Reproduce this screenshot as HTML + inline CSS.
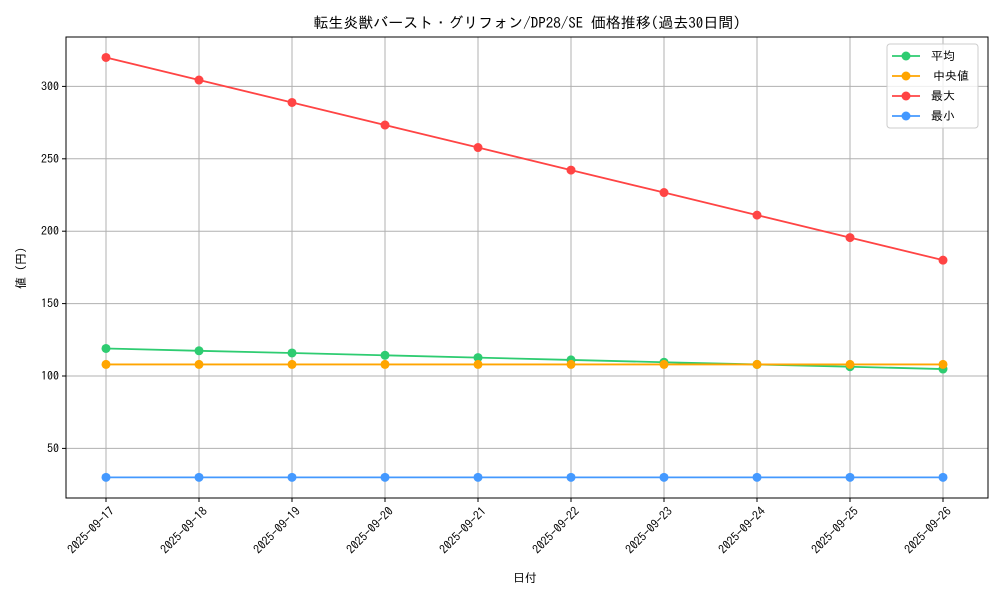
<!DOCTYPE html>
<html><head><meta charset="utf-8"><style>
body{margin:0;background:#fff;}
svg text{font-family:"IPAGothic","Liberation Sans","Noto Sans CJK JP",sans-serif;fill:#000;}
</style></head><body>
<svg id="chart" width="1000" height="600" xmlns="http://www.w3.org/2000/svg">
<rect x="0" y="0" width="1000" height="600" fill="#fff"/>
<text x="527" y="28" font-size="15" text-anchor="middle">転生炎獣バースト・グリフォン/DP28/SE 価格推移(過去30日間)</text>
<g id="grid"></g>
<g id="series"></g>
<rect x="66" y="37" width="922" height="461" fill="none" stroke="#000" stroke-width="1"/>
<g id="axes"></g>
<text x="525" y="582" font-size="12" text-anchor="middle">日付</text>
<text transform="translate(25,268) rotate(-90)" font-size="12" text-anchor="middle">値 (円)</text>
<g id="legend">
<rect x="887" y="44" width="91" height="84" rx="3" fill="#fff" fill-opacity="0.8" stroke="#ccc"/>
</g>
</svg>
<script>
const dates=["2025-09-17","2025-09-18","2025-09-19","2025-09-20","2025-09-21","2025-09-22","2025-09-23","2025-09-24","2025-09-25","2025-09-26"];
const avgVals=[119,117.4,115.9,114.3,112.7,111.1,109.5,108,106.4,104.8];
const medVals=[108,108,108,108,108,108,108,108,108,108];
const maxVals=[320,304.4,288.9,273.3,257.8,242.2,226.7,211.1,195.6,180];
const minVals=[30,30,30,30,30,30,30,30,30,30];
const yTicks=[50,100,150,200,250,300];
const seriesNames=["平均","中央値","最大","最小"];
const seriesColors=["#2ecc71","#ffa500","#ff4444","#4499ff"];
const NS="http://www.w3.org/2000/svg";
function xs(i){return 106+i*(943-106)/(dates.length-1);}
function ys(v){return 376-(v-100)*1.448;}
function mk(t,a,p){const e=document.createElementNS(NS,t);for(const k in a)e.setAttribute(k,a[k]);p.appendChild(e);return e;}
const grid=document.getElementById('grid'),axes=document.getElementById('axes'),ser=document.getElementById('series'),leg=document.getElementById('legend');
dates.forEach((d,i)=>{
 const x=xs(i);
 const g=mk('line',{x1:x,x2:x,y1:37,y2:498,stroke:'#b0b0b0','stroke-width':1},grid);
 
 
 mk('line',{x1:x,x2:x,y1:498,y2:502,stroke:'#000'},axes);
 const ax=x+9, ay=512;
 const t=mk('text',{x:ax,y:ay,'font-size':12,'text-anchor':'end',transform:`rotate(-45 ${ax} ${ay})`},axes);
 t.textContent=d;
 
 
});
yTicks.forEach(v=>{
 const y=ys(v);
 const g=mk('line',{x1:66,x2:988,y1:y,y2:y,stroke:'#b0b0b0','stroke-width':1},grid);
 
 
 mk('line',{x1:62,x2:66,y1:y,y2:y,stroke:'#000'},axes);
 const t=mk('text',{x:59,y:y+4,'font-size':12,'text-anchor':'end'},axes);
 t.textContent=v;
 
 
});
const all=[avgVals,medVals,maxVals,minVals];
all.forEach((vals,s)=>{
 const g=mk('g',{},ser);
 
 
 mk('polyline',{points:vals.map((v,i)=>xs(i)+','+ys(v)).join(' '),fill:'none',stroke:seriesColors[s],'stroke-width':1.8},g);
 vals.forEach((v,i)=>{
  const c=mk('circle',{cx:xs(i),cy:ys(v),r:4.5,fill:seriesColors[s]},g);
  
  
 });
 const ly=56+s*20;
 const e=mk('g',{},leg);
 
 
 mk('line',{x1:892,x2:920,y1:ly,y2:ly,stroke:seriesColors[s],'stroke-width':1.8},e);
 mk('circle',{cx:906,cy:ly,r:4.5,fill:seriesColors[s]},e);
 const t=mk('text',{x:s==1?933:931,y:ly+4,'font-size':12},e);
 t.textContent=seriesNames[s];
});
</script>
</body></html>
